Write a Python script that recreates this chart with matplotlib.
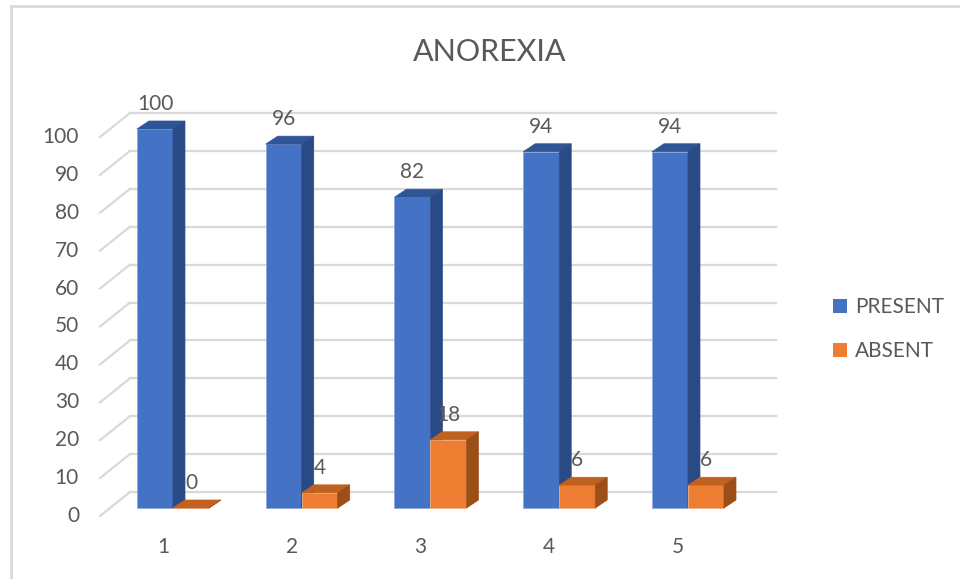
import matplotlib
matplotlib.use("Agg")
import matplotlib.pyplot as plt
from matplotlib.patches import Polygon, Patch, Rectangle

# ---- data ----
categories = ["1", "2", "3", "4", "5"]
present = [100, 96, 82, 94, 94]
absent = [0, 4, 18, 6, 6]
series_names = ["PRESENT", "ABSENT"]
yticks = [0, 10, 20, 30, 40, 50, 60, 70, 80, 90, 100]
title = "ANOREXIA"

# ---- styling ----
W, H = 960, 579
FONT = ["Lato", "DejaVu Sans"]
TXT = "#595959"
GRID = "#D9D9D9"
blue = ("#4472C4", "#2F5597", "#2A4A86")    # front, top, side
orange = ("#ED7D31", "#C0611F", "#9C4E17")

fig = plt.figure(figsize=(W / 100, H / 100), dpi=100)
plt.rcParams["font.family"] = FONT

# axes geometry in pixels (front plane of bars)
x0_px, xunit_px = 108.6, 128.75
y0_px, y100_px = 508, 129
sx = xunit_px
sy = (y0_px - y100_px) / 100.0
ax = fig.add_axes([x0_px / W, (H - y0_px) / H, 5 * xunit_px / W, (y0_px - y100_px) / H])
ax.set_xlim(0.5, 5.5)
ax.set_ylim(0, 100)
ax.axis("off")

def px2x(px):
    return 0.5 + (px - x0_px) / sx

# back wall gridlines + floor diagonals
back_dy = 16 / sy
front_dy = -8 / sy
xb0, xb1 = px2x(130), px2x(776)
xf0 = px2x(100)
for v in yticks:
    ax.plot([xb0, xb1], [v + back_dy, v + back_dy], color=GRID, lw=1.6, clip_on=False, zorder=1)
    ax.plot([xf0, xb0], [v + front_dy, v + back_dy], color=GRID, lw=1.6, clip_on=False, zorder=1)
    ax.text(px2x(79), v + front_dy, str(v), ha="right", va="center", fontsize=15,
            color=TXT, clip_on=False)

# bars
w = 36 / sx
ddx, ddy = 12 / sx, 8 / sy

def bar3d(xl, val, cols):
    front, top, side = cols
    ax.bar(xl, val, width=w, align="edge", color=front, edgecolor="#8FAADC" if front == blue[0] else "#F4B183",
           linewidth=0.6, zorder=3, clip_on=False)
    ax.add_patch(Polygon([(xl, val), (xl + w, val), (xl + w + ddx, val + ddy), (xl + ddx, val + ddy)],
                         closed=True, facecolor=top, edgecolor=top, lw=0.5, zorder=3, clip_on=False))
    ax.add_patch(Polygon([(xl + w, 0), (xl + w + ddx, ddy), (xl + w + ddx, val + ddy), (xl + w, val)],
                         closed=True, facecolor=side, edgecolor=side, lw=0.5, zorder=3, clip_on=False))

for i, (p, a) in enumerate(zip(present, absent)):
    xc = i + 1
    bar3d(xc - w, p, blue)
    bar3d(xc, a, orange)
    ax.text(xc - w / 2, p + 25 / sy, str(p), ha="center", va="center", fontsize=15, color=TXT, zorder=5)
    ax.text(xc + w / 2, a + 25 / sy, str(a), ha="center", va="center", fontsize=15, color=TXT, zorder=5)
    ax.text(xc - 10 / sx, -39 / sy, categories[i], ha="center", va="center", fontsize=15, color=TXT,
            clip_on=False)

# title
fig.text(490 / W, 1 - 52 / H, title, ha="center", va="center", fontsize=22, color=TXT)

# legend
handles = [Patch(facecolor=blue[0], edgecolor="none"), Patch(facecolor=orange[0], edgecolor="none")]
fig.legend(handles, series_names, loc="center left", bbox_to_anchor=(833 / W, 1 - 329 / H),
           frameon=False, fontsize=15, handlelength=0.65, handleheight=0.65, handletextpad=0.4,
           labelspacing=1.15, borderpad=0, borderaxespad=0, labelcolor=TXT)

# chart border (only top and left visible)
fig.patches.append(Rectangle((11 / W, -0.05), 1.2, 1 - 6 / H + 0.05, transform=fig.transFigure,
                             fill=False, edgecolor=GRID, lw=2))

fig.savefig("out.png", dpi=100, facecolor="white")
